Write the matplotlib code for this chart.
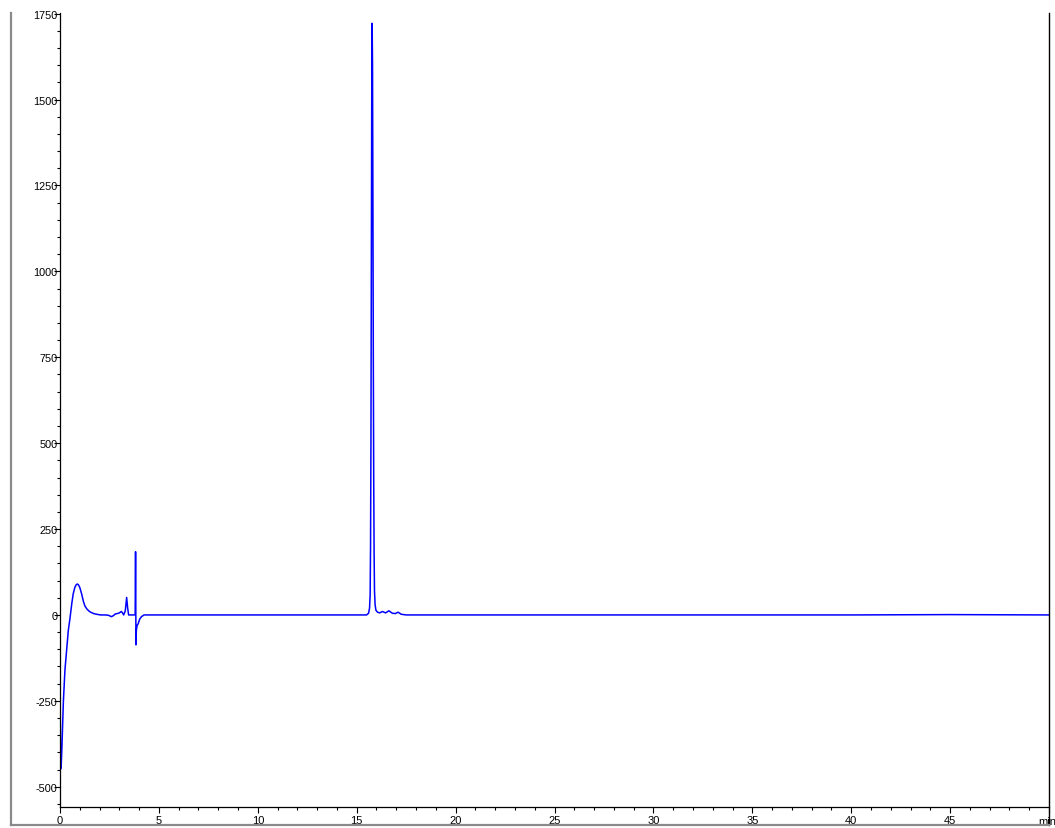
import matplotlib
matplotlib.use('Agg')
import matplotlib.pyplot as plt
from matplotlib.lines import Line2D
from matplotlib.ticker import MultipleLocator

plt.rcParams['font.family'] = ['Liberation Sans', 'DejaVu Sans']
plt.rcParams['axes.unicode_minus'] = False

# retention time [min] and detector signal
time_min = [0.0, 0.03, 0.06, 0.1, 0.17, 0.25, 0.34, 0.42, 0.5, 0.6, 0.67, 0.75,
            0.82, 0.87, 0.93, 1.0, 1.1, 1.18, 1.26, 1.35, 1.45, 1.55, 1.7, 1.85,
            2.05, 2.3, 2.45, 2.6, 2.7, 2.8, 2.9, 3.0, 3.1, 3.16, 3.22, 3.3,
            3.37, 3.42, 3.47, 3.6, 3.75, 3.8, 3.82, 3.83, 3.84, 3.86, 3.9,
            3.95, 4.03, 4.12, 4.25, 4.5, 5.0, 7.0, 10.0, 13.0, 15.0, 15.5,
            15.6, 15.65, 15.68, 15.7, 15.72, 15.74, 15.76, 15.78, 15.8, 15.82,
            15.84, 15.86, 15.88, 15.9, 15.93, 15.97, 16.05, 16.16, 16.3, 16.46,
            16.63, 16.8, 16.95, 17.09, 17.25, 17.5, 20.0, 25.0, 30.0, 35.0,
            40.0, 45.0, 50.0]
signal = [-162, -449, -440, -380, -253, -160, -99, -45, -12, 35, 62, 80,
          88, 90, 88, 80, 60, 40, 26, 18, 12, 8, 4, 2,
          0, 0, -1, -5, -2, 3, 4, 6, 10, 6, 0, 12,
          51, 20, 0, 0, 0, 1, 184, 60, -87, -45, -30,
          -26, -12, -5, 0, 0, 0, 0, 0, 0, 0, 0,
          5, 20, 60, 200, 500, 1000, 1500, 1722, 1600, 1200,
          750, 400, 180, 70, 30, 14, 8, 6, 10, 6,
          12, 5, 4, 8, 2, 0, 0, 0, 0, 0,
          0, 1, 0]

x_ticks = [0, 5, 10, 15, 20, 25, 30, 35, 40, 45, 50]
x_labels = ['0', '5', '10', '15', '20', '25', '30', '35', '40', '45', '']
x_unit = 'min'
y_ticks = [-500, -250, 0, 250, 500, 750, 1000, 1250, 1500, 1750]

fig = plt.figure(figsize=(10.55, 8.29), dpi=100)
W, H = 1055, 829
ax = fig.add_axes([60 / W, (H - 808) / H, (1049 - 60) / W, (808 - 14) / H])

ax.plot(time_min, signal, color='#0000ff', lw=1.1, solid_joinstyle='round')

ax.set_xlim(0, 50)
ax.set_ylim(-559, 1752)

ax.set_xticks(x_ticks)
ax.set_xticklabels(x_labels)
ax.xaxis.set_minor_locator(MultipleLocator(1))
ax.set_yticks(y_ticks)
ax.yaxis.set_minor_locator(MultipleLocator(50))

ax.tick_params(axis='y', which='major', direction='out', length=4.3, width=0.8,
               pad=-2.5, labelsize=7.8)
ax.tick_params(axis='y', which='minor', direction='out', length=2.2, width=0.8)
ax.tick_params(axis='x', which='major', direction='out', length=4.5, width=0.8,
               pad=1.5, labelsize=8)
ax.tick_params(axis='x', which='minor', direction='out', length=2.2, width=0.8)

# unit label sits in place of the last tick label, pushed inside the figure
ax.annotate(x_unit, xy=(50, 0), xycoords=('data', 'axes fraction'),
            xytext=(-1, -6.5), textcoords='offset points',
            ha='center', va='top', fontsize=8)

for s in ['top', 'right']:
    ax.spines[s].set_visible(False)
ax.spines['left'].set_linewidth(0.9)
ax.spines['bottom'].set_linewidth(0.9)

# outer frame lines (figure pixel coordinates, y from top)
def fig_line(x0, y0, x1, y1, **kw):
    fig.add_artist(Line2D([x0 / W, x1 / W], [1 - y0 / H, 1 - y1 / H],
                          transform=fig.transFigure, **kw))

fig_line(1049, 14, 1049, 826, color='black', lw=1.0)
fig_line(11, 14, 11, 826, color='#8a8a8a', lw=1.6)
fig_line(11, 826, 1049, 826, color='#8a8a8a', lw=1.6)

fig.savefig('out.png', dpi=100)
